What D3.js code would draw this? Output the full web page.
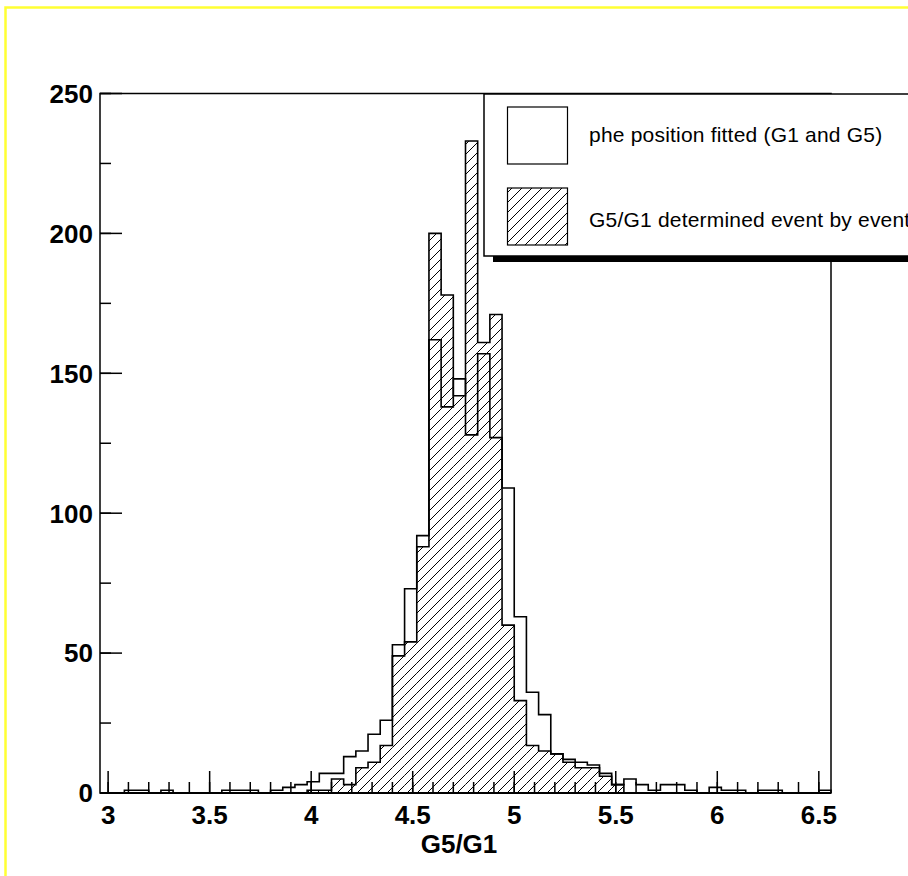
<!DOCTYPE html>
<html>
<head>
<meta charset="utf-8">
<script src="https://cdn.jsdelivr.net/npm/d3@7"></script>
<style>
  html, body { margin: 0; padding: 0; background: #fff; }
  svg { display: block; }
</style>
</head>
<body>
<svg id="chart" width="908" height="876"></svg>
<script>
// histogram binning: 60 bins of 0.06 between 2.96 and 6.56
const binLow = 2.96;
const binWidth = 0.06;

// "phe position fitted (G1 and G5)"
const fittedCounts = [
  0, 0, 1, 1, 0, 1, 0, 0, 0, 0,
  1, 1, 1, 0, 1, 2, 3, 4, 7, 7,
  13, 15, 21, 26, 53, 73, 92, 162, 138, 148,
  128, 157, 127, 109, 63, 36, 28, 14, 12, 11,
  10, 7, 3, 5, 3, 1, 3, 3, 1, 0,
  2, 1, 1, 0, 1, 1, 0, 0, 0, 1
];

// "G5/G1 determined event by event"
const eventCounts = [
  0, 0, 0, 0, 0, 0, 0, 0, 0, 0,
  0, 0, 0, 0, 0, 0, 0, 1, 1, 5,
  3, 9, 11, 17, 49, 54, 88, 200, 178, 142,
  233, 161, 171, 60, 33, 17, 15, 14, 11, 9,
  9, 6, 3, 0, 0, 0, 0, 0, 0, 0,
  0, 0, 0, 0, 0, 0, 0, 0, 0, 0
];

const xMajorTicks = [3, 3.5, 4, 4.5, 5, 5.5, 6, 6.5];
const yMajorTicks = [0, 50, 100, 150, 200, 250];
const legendLabels = ['phe position fitted (G1 and G5)', 'G5/G1 determined event by event'];
const xTitle = 'G5/G1';

const svg = d3.select('#chart');

const frame = {left: 100, right: 831, top: 93.5, bottom: 793};

const x = d3.scaleLinear()
  .domain([binLow, binLow + binWidth * fittedCounts.length])
  .range([frame.left, frame.right]);

const y = d3.scaleLinear()
  .domain([0, 250])
  .range([frame.bottom, frame.top]);

const labelFont = '"Liberation Sans", Arial, Helvetica, sans-serif';

// yellow canvas border
svg.append('path')
  .attr('d', 'M5.5,876 V7.5 H908')
  .attr('fill', 'none')
  .attr('stroke', '#ffff33')
  .attr('stroke-width', 2.5);

// hatch pattern (like ROOT fill style 3004)
const defs = svg.append('defs');
const hatch = defs.append('pattern')
  .attr('id', 'hatch')
  .attr('patternUnits', 'userSpaceOnUse')
  .attr('width', 10)
  .attr('height', 10);
hatch.append('path')
  .attr('d', 'M-1,1 L1,-1 M0,10 L10,0 M9,11 L11,9')
  .attr('stroke', '#000')
  .attr('stroke-width', 1);

const binEdge = (i) => x(binLow + i * binWidth);

function stepPath(counts) {
  let d = `M${binEdge(0)},${y(0)}`;
  counts.forEach((c, i) => {
    d += ` V${y(c)} H${binEdge(i + 1)}`;
  });
  d += ` V${y(0)}`;
  return d;
}

const plot = svg.append('g').attr('class', 'plot');

// hatched fill
plot.append('g')
  .selectAll('rect')
  .data(eventCounts.map((c, i) => ({c, i})).filter((d) => d.c > 0))
  .enter()
  .append('rect')
  .attr('x', (d) => binEdge(d.i))
  .attr('width', (d) => binEdge(d.i + 1) - binEdge(d.i))
  .attr('y', (d) => y(d.c))
  .attr('height', (d) => y(0) - y(d.c))
  .attr('fill', 'url(#hatch)');

// outlines
[eventCounts, fittedCounts].forEach((counts) => {
  plot.append('path')
    .attr('d', stepPath(counts))
    .attr('fill', 'none')
    .attr('stroke', '#000')
    .attr('stroke-width', 1.6);
});

// frame
svg.append('rect')
  .attr('x', frame.left)
  .attr('y', frame.top)
  .attr('width', frame.right - frame.left)
  .attr('height', frame.bottom - frame.top)
  .attr('fill', 'none')
  .attr('stroke', '#000')
  .attr('stroke-width', 1.5);

svg.append('line')
  .attr('x1', frame.left).attr('x2', frame.right)
  .attr('y1', y(0)).attr('y2', y(0))
  .attr('stroke', '#000')
  .attr('stroke-width', 2);

// x axis
const xMinorTicks = d3.range(30, 66).map((v) => v / 10);
const axisX = svg.append('g').attr('class', 'x-axis');
axisX.selectAll('line.minor')
  .data(xMinorTicks)
  .enter()
  .append('line')
  .attr('class', 'minor')
  .attr('x1', (d) => x(d)).attr('x2', (d) => x(d))
  .attr('y1', y(0)).attr('y2', y(0) - 11)
  .attr('stroke', '#000').attr('stroke-width', 1.5);
axisX.selectAll('line.major')
  .data(xMajorTicks)
  .enter()
  .append('line')
  .attr('class', 'major')
  .attr('x1', (d) => x(d)).attr('x2', (d) => x(d))
  .attr('y1', y(0)).attr('y2', y(0) - 22)
  .attr('stroke', '#000').attr('stroke-width', 1.5);
axisX.selectAll('text')
  .data(xMajorTicks)
  .enter()
  .append('text')
  .attr('x', (d) => x(d))
  .attr('y', 824)
  .attr('text-anchor', 'middle')
  .style('font-family', labelFont)
  .style('font-weight', 'bold')
  .style('font-size', '26px')
  .text((d) => d3.format('~g')(d));

svg.append('text')
  .attr('x', 459)
  .attr('y', 853)
  .attr('text-anchor', 'middle')
  .style('font-family', labelFont)
  .style('font-weight', 'bold')
  .style('font-size', '26px')
  .text(xTitle);

// y axis
const yMinorTicks = d3.range(0, 251, 25);
const axisY = svg.append('g').attr('class', 'y-axis');
axisY.selectAll('line.minor')
  .data(yMinorTicks)
  .enter()
  .append('line')
  .attr('class', 'minor')
  .attr('x1', frame.left).attr('x2', frame.left + 11)
  .attr('y1', (d) => y(d)).attr('y2', (d) => y(d))
  .attr('stroke', '#000').attr('stroke-width', 1.5);
axisY.selectAll('line.major')
  .data(yMajorTicks)
  .enter()
  .append('line')
  .attr('class', 'major')
  .attr('x1', frame.left).attr('x2', frame.left + 22)
  .attr('y1', (d) => y(d)).attr('y2', (d) => y(d))
  .attr('stroke', '#000').attr('stroke-width', 1.5);
axisY.selectAll('text')
  .data(yMajorTicks)
  .enter()
  .append('text')
  .attr('x', 93)
  .attr('y', (d) => y(d))
  .attr('dy', '0.36em')
  .attr('text-anchor', 'end')
  .style('font-family', labelFont)
  .style('font-weight', 'bold')
  .style('font-size', '26px')
  .text((d) => d);

// legend (runs off the right edge, with a shadow underneath)
const legend = svg.append('g').attr('class', 'legend');
legend.append('rect')
  .attr('x', 493).attr('y', 255)
  .attr('width', 500).attr('height', 7)
  .attr('fill', '#000');
legend.append('rect')
  .attr('x', 484).attr('y', 94)
  .attr('width', 500).attr('height', 162)
  .attr('fill', '#fff')
  .attr('stroke', '#000')
  .attr('stroke-width', 1.5);

const entries = [
  {label: legendLabels[0], fill: '#fff', boxY: 107, textY: 142},
  {label: legendLabels[1], fill: 'url(#hatch)', boxY: 188, textY: 227}
];
entries.forEach((e) => {
  legend.append('rect')
    .attr('x', 507.5).attr('y', e.boxY)
    .attr('width', 60).attr('height', 57)
    .attr('fill', e.fill)
    .attr('stroke', '#000')
    .attr('stroke-width', 1.2);
  legend.append('text')
    .attr('x', 589)
    .attr('y', e.textY)
    .style('font-family', labelFont)
    .style('font-size', '21px')
    .style('letter-spacing', '0.2px')
    .text(e.label);
});
</script>
</body>
</html>
